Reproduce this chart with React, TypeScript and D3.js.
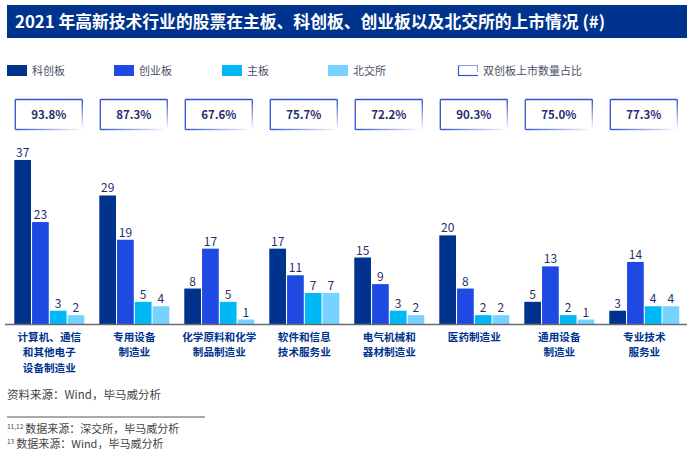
import React from "react";
import * as d3 from "d3";

const categories: string[][] = [
  ["计算机、通信", "和其他电子", "设备制造业"],
  ["专用设备", "制造业"],
  ["化学原料和化学", "制品制造业"],
  ["软件和信息", "技术服务业"],
  ["电气机械和", "器材制造业"],
  ["医药制造业"],
  ["通用设备", "制造业"],
  ["专业技术", "服务业"],
];
const seriesNames = ["科创板", "创业板", "主板", "北交所"];
const kechuang = [37, 29, 8, 17, 15, 20, 5, 3];
const chuangye = [23, 19, 17, 11, 9, 8, 13, 14];
const zhuban = [3, 5, 5, 7, 3, 2, 2, 4];
const beijiao = [2, 4, 1, 7, 2, 2, 1, 4];
const shareLabels = ["93.8%", "87.3%", "67.6%", "75.7%", "72.2%", "90.3%", "75.0%", "77.3%"];
const boxLegend = "双创板上市数量占比";
const title = "2021 年高新技术行业的股票在主板、科创板、创业板以及北交所的上市情况 (#)";

const colors = ["#00338D", "#1E49E2", "#00B8F5", "#76D2FF"];
const FONT = "'Noto Sans CJK SC', 'Noto Sans', sans-serif";
const NAVY = "#00338D";
const BOXBLUE = "#3550D0";

export default function App() {
  const W = 700, H = 460;
  const series = [kechuang, chuangye, zhuban, beijiao];
  const idx = categories.map((_, i) => String(i));
  const x0 = d3.scaleBand().domain(idx).range([6.8, 686.8]).paddingInner(0.176).paddingOuter(0.088);
  const x1 = d3.scaleBand().domain(seriesNames).range([0, x0.bandwidth()]).paddingInner(0.06);
  const y = d3.scaleLinear().domain([0, 37]).range([324, 160]);
  const legendX = [7, 114, 222, 328];

  return (
    <svg width={W} height={H} style={{ position: "absolute", left: 0, top: 0, fontFamily: FONT }}>
      <defs>
        <linearGradient id="fadeR" x1="0" x2="1" y1="0" y2="0">
          <stop offset="0" stopColor={BOXBLUE} stopOpacity={1} />
          <stop offset="1" stopColor={BOXBLUE} stopOpacity={0} />
        </linearGradient>
        <linearGradient id="fadeD" x1="0" x2="0" y1="0" y2="1">
          <stop offset="0" stopColor={BOXBLUE} stopOpacity={1} />
          <stop offset="1" stopColor={BOXBLUE} stopOpacity={0} />
        </linearGradient>
      </defs>
      <rect x={0} y={0} width={W} height={H} fill="#fff" />
      {/* title */}
      <rect x={7} y={5} width={680} height={33} fill={NAVY} />
      <text x={15} y={27.5} fill="#fff" fontSize={16.8} fontWeight={700}>{title}</text>

      {/* legend */}
      {seriesNames.map((s, i) => (
        <g key={s}>
          <rect x={legendX[i]} y={65} width={20} height={11} fill={colors[i]} />
          <text x={legendX[i] + 25} y={75} fontSize={11} fill="#4a5068">{s}</text>
        </g>
      ))}
      <g>
        <line x1={458.5} y1={65} x2={458.5} y2={76} stroke={BOXBLUE} strokeWidth={1.2} />
        <line x1={458} y1={75.5} x2={478} y2={75.5} stroke={BOXBLUE} strokeWidth={1.2} />
        <line x1={458} y1={65.5} x2={478} y2={65.5} stroke="#8d9be0" strokeWidth={1} />
        <line x1={477.5} y1={65} x2={477.5} y2={72} stroke="#8d9be0" strokeWidth={1} />
        <text x={483} y={75} fontSize={11} fill="#4a5068">{boxLegend}</text>
      </g>

      {/* share boxes */}
      {shareLabels.map((lab, i) => {
        const cx = (x0(String(i)) as number) + x0.bandwidth() / 2 - 0.5;
        const bx = cx - 33.5, bw = 67, by = 99.5, bh = 30;
        return (
          <g key={lab + i}>
            <line x1={bx} y1={by} x2={bx + bw} y2={by} stroke={BOXBLUE} strokeWidth={1.3} />
            <line x1={bx} y1={by} x2={bx} y2={by + bh} stroke={BOXBLUE} strokeWidth={1.3} />
            <rect x={bx + bw - 0.7} y={by} width={1.4} height={bh} fill="url(#fadeD)" />
            <rect x={bx} y={by + bh - 0.7} width={bw} height={1.4} fill="url(#fadeR)" />
            <text x={cx} y={by + 19} textAnchor="middle" fontSize={11.5} fontWeight={700} fill="#1f2f6e">{lab}</text>
          </g>
        );
      })}

      {/* bars */}
      {categories.map((cat, i) => {
        const gx = x0(String(i)) as number;
        return (
          <g key={i} transform={`translate(${gx},0)`}>
            {series.map((vals, s) => {
              const v = vals[i];
              const bx = x1(seriesNames[s]) as number;
              return (
                <g key={s}>
                  <rect x={bx} y={y(v)} width={x1.bandwidth()} height={y(0) - y(v)} fill={colors[s]} />
                  <text x={bx + x1.bandwidth() / 2} y={y(v) - 3} textAnchor="middle" fontSize={12} fill="#1f2f6e">{v}</text>
                </g>
              );
            })}
            {cat.map((line, k) => (
              <text key={k} x={x0.bandwidth() / 2} y={340.5 + k * 15.5} textAnchor="middle" fontSize={10.6} fontWeight={700} fill={NAVY}>{line}</text>
            ))}
          </g>
        );
      })}
      <line x1={5} y1={324.5} x2={687} y2={324.5} stroke="#6b6b6b" strokeWidth={1.5} />

      {/* sources */}
      <text x={7} y={399} fontSize={11.5} fill="#444">资料来源：Wind，毕马威分析</text>
      <line x1={7} y1={417} x2={205} y2={417} stroke="#555" strokeWidth={1} />
      <text x={7} y={433} fill="#444">
        <tspan fontSize={6.5} dy={-4}>11,12</tspan>
        <tspan fontSize={11} dy={4} dx={2}>数据来源：深交所，毕马威分析</tspan>
      </text>
      <text x={7} y={448} fill="#444">
        <tspan fontSize={6.5} dy={-4}>13</tspan>
        <tspan fontSize={11} dy={4} dx={2}>数据来源：Wind，毕马威分析</tspan>
      </text>
    </svg>
  );
}
